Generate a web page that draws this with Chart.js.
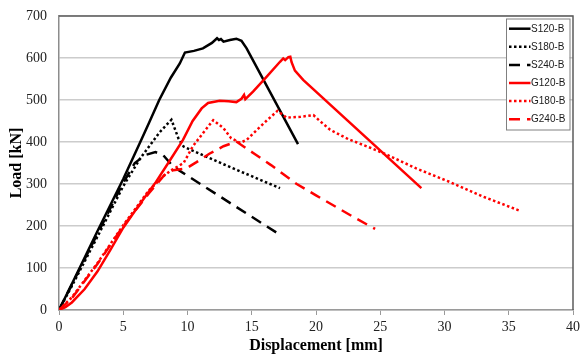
<!DOCTYPE html>
<html>
<head>
<meta charset="utf-8">
<script src="https://cdn.jsdelivr.net/npm/chart.js@4.4.1/dist/chart.umd.min.js"></script>
<style>
  html, body { margin: 0; padding: 0; background: #ffffff; }
  canvas { display: block; }
</style>
</head>
<body>
<canvas id="c" width="581" height="356"></canvas>
<script>
// ---- Data ----
const seriesNames = ['S120-B', 'S180-B', 'S240-B', 'G120-B', 'G180-B', 'G240-B'];

const s120X = [0, 1, 3, 5, 6.3, 7, 7.8, 8.7, 9.4, 9.8, 10.5, 11.2, 11.9, 12.3, 12.45, 12.6, 12.8, 13.3, 13.8, 14.2, 14.6, 18.6];
const s120Y = [0, 62, 188, 312, 398, 445, 500, 553, 587, 613, 617, 623, 636, 647, 643, 645, 639, 643, 646, 641, 623, 395];

const s180X = [0, 1, 3, 5, 6.3, 7.1, 7.8, 8.4, 8.75, 9.3, 9.7, 12.8, 17.2];
const s180Y = [0, 57, 175, 295, 360, 393, 422, 442, 453, 408, 389, 347, 290];

const s240X = [0, 3, 5, 5.9, 6.7, 7.5, 8.1, 8.9, 17.2];
const s240Y = [0, 182, 303, 350, 369, 376, 369, 341, 179];

const g120X = [0, 0.5, 1, 2, 3, 4, 5, 6, 7, 7.55, 8.5, 9.65, 10.4, 11.1, 11.6, 12.5, 13.2, 13.8, 14.2, 14.4, 14.5, 15.1, 16.15, 17.2, 17.45, 17.6, 17.85, 18.0, 18.1, 18.36, 19.0, 28.2];
const g120Y = [0, 7, 18, 50, 92, 143, 196, 240, 282, 305, 350, 405, 450, 480, 493, 498, 497, 495, 503, 512, 502, 520, 555, 591, 599, 595, 602, 603, 590, 570, 548, 290];

const g180X = [0, 1, 3, 5, 7, 8.1, 8.75, 9.7, 10.4, 11.2, 12.0, 12.8, 13.4, 14.1, 14.6, 15.4, 16.2, 17.0, 17.7, 18.8, 19.8, 20.3, 21.1, 22.5, 24, 25.5, 27.8, 30.4, 33, 35.8];
const g180Y = [0, 30, 112, 202, 285, 318, 333, 350, 389, 421, 452, 433, 409, 398, 405, 429, 452, 474, 458, 460, 464, 450, 429, 407, 389, 370, 337, 305, 270, 237];

const g240X = [0, 1, 3, 5, 7, 8.3, 8.9, 9.9, 10.7, 11.7, 12.8, 13.8, 15.2, 16.5, 18.5, 20, 21.3, 23, 24.6];
const g240Y = [0, 28, 110, 200, 278, 325, 333, 337, 352, 372, 390, 401, 372, 345, 300, 273, 250, 220, 193];

const xTicks = [0, 5, 10, 15, 20, 25, 30, 35, 40];
const yTicks = [0, 100, 200, 300, 400, 500, 600, 700];

// ---- Build datasets ----
function pts(xs, ys) { return xs.map((x, i) => ({ x: x, y: ys[i] })); }
const DOT = [2.5, 2.5];
const DASH = [11, 7];
const styles = [
  { color: '#000000', dash: [] ,  order: 2 },
  { color: '#000000', dash: DOT,  order: 2 },
  { color: '#000000', dash: DASH, order: 2 },
  { color: '#ff0000', dash: [],   order: 1 },
  { color: '#ff0000', dash: DOT,  order: 1 },
  { color: '#ff0000', dash: DASH, order: 1 }
];
const xs = [s120X, s180X, s240X, g120X, g180X, g240X];
const ys = [s120Y, s180Y, s240Y, g120Y, g180Y, g240Y];

const datasets = seriesNames.map((name, i) => ({
  label: name,
  data: pts(xs[i], ys[i]),
  borderColor: styles[i].color,
  backgroundColor: styles[i].color,
  borderDash: styles[i].dash,
  borderWidth: 2.5,
  pointRadius: 0,
  showLine: true,
  tension: 0,
  fill: false,
  order: styles[i].order
}));

// ---- Plugins: plot frame + boxed legend ----
const framePlugin = {
  id: 'frameLegend',
  afterDraw(chart) {
    const ctx = chart.ctx;
    const a = chart.chartArea;
    ctx.save();
    ctx.strokeStyle = '#5c5c5c';
    ctx.lineWidth = 1.5;
    ctx.beginPath();
    ctx.moveTo(a.left, a.top);
    ctx.lineTo(a.right, a.top);
    ctx.lineTo(a.right, a.bottom);
    ctx.stroke();

    const bx = 506, by = 18.5, bw = 63.5, bh = 111;
    ctx.fillStyle = '#ffffff';
    ctx.fillRect(bx, by, bw, bh);
    ctx.strokeStyle = '#808080';
    ctx.lineWidth = 1;
    ctx.strokeRect(bx + 0.5, by + 0.5, bw, bh);
    ctx.font = '10px "Liberation Sans", Arial, sans-serif';
    ctx.textBaseline = 'middle';
    ctx.textAlign = 'left';
    chart.data.datasets.forEach((ds, i) => {
      const yy = 28.7 + i * 18.1;
      ctx.beginPath();
      ctx.strokeStyle = ds.borderColor;
      ctx.lineWidth = 2.5;
      ctx.setLineDash(ds.borderDash || []);
      ctx.moveTo(509, yy);
      ctx.lineTo(530.5, yy);
      ctx.stroke();
      ctx.setLineDash([]);
      ctx.fillStyle = '#1a1a1a';
      ctx.fillText(ds.label, 531, yy + 0.5);
    });
    ctx.restore();
  }
};

Chart.defaults.font.family = '"Liberation Serif", "Times New Roman", serif';

function zeroPad(s) { s.paddingTop = 0; s.paddingBottom = 0; s.paddingLeft = 0; s.paddingRight = 0; }

new Chart(document.getElementById('c'), {
  type: 'scatter',
  data: { datasets: datasets },
  options: {
    responsive: false,
    devicePixelRatio: 1,
    animation: false,
    layout: { padding: { top: 16, right: 8, left: 0, bottom: 0 } },
    plugins: {
      legend: { display: false },
      tooltip: { enabled: false }
    },
    scales: {
      x: {
        type: 'linear',
        min: 0, max: 40,
        afterFit: s => { s.height = 46; zeroPad(s); },
        afterBuildTicks: s => { s.ticks = xTicks.map(v => ({ value: v })); },
        ticks: { stepSize: 5, color: '#222222', font: { size: 14 }, padding: 4, maxRotation: 0 },
        grid: { drawOnChartArea: false, drawTicks: true, tickLength: 5, color: '#9a9a9a', lineWidth: 1 },
        border: { color: '#9a9a9a', width: 1.5 },
        title: { display: true, text: 'Displacement [mm]', color: '#000000',
                 font: { size: 16, weight: 'bold' }, padding: { top: 0, bottom: 1 } }
      },
      y: {
        type: 'linear',
        min: 0, max: 700,
        afterFit: s => { s.width = 59; zeroPad(s); },
        afterBuildTicks: s => { s.ticks = yTicks.map(v => ({ value: v })); },
        ticks: { stepSize: 100, color: '#222222', font: { size: 14 }, padding: 12 },
        grid: { color: '#cccccc', lineWidth: 1.5, drawTicks: false },
        border: { color: '#8c8c8c', width: 1.5 },
        title: { display: true, text: 'Load [kN]', color: '#000000',
                 font: { size: 16, weight: 'bold' }, padding: { top: 7, bottom: 0 } }
      }
    }
  },
  plugins: [framePlugin]
});
</script>
</body>
</html>
